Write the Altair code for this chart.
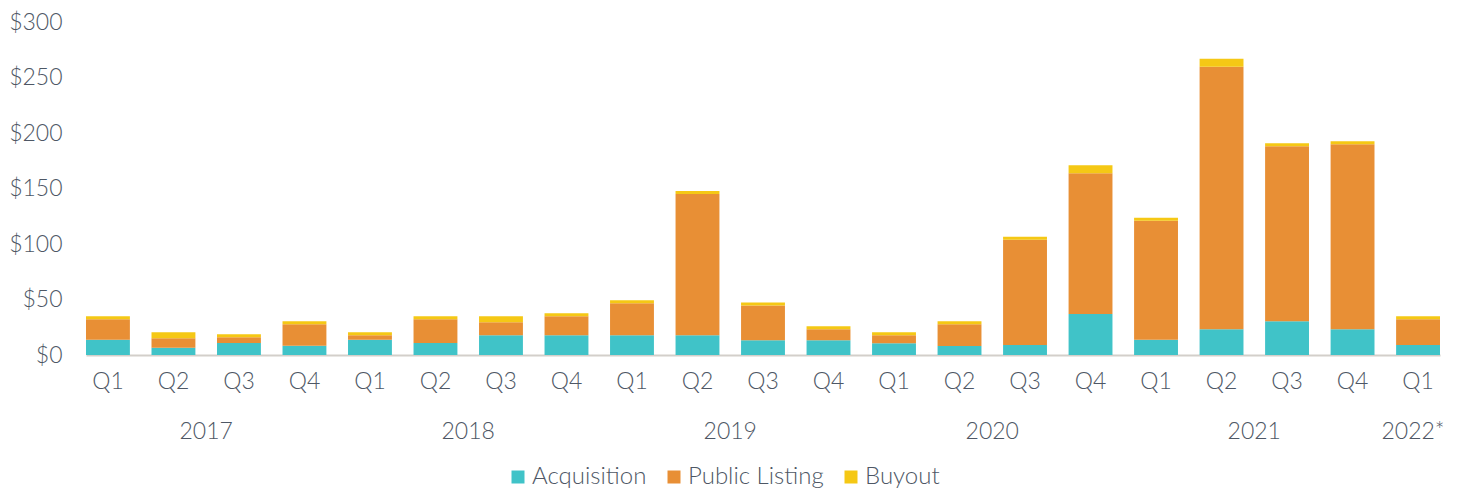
import altair as alt
import pandas as pd

years = ["2017"] * 4 + ["2018"] * 4 + ["2019"] * 4 + ["2020"] * 4 + ["2021"] * 4 + ["2022"]
quarters = ["Q1", "Q2", "Q3", "Q4"] * 5 + ["Q1"]
acquisition = [13.7, 6.5, 10.7, 8.4, 13.7, 10.7, 17.9, 17.9, 17.9, 17.9, 13.4,
               13.4, 10.5, 8.1, 9.0, 37.0, 13.7, 23.3, 30.4, 23.3, 9.0]
public_listing = [18.5, 8.7, 5.4, 19.4, 4.2, 21.5, 11.6, 17.0, 28.7, 127.1, 31.3,
                  9.8, 7.4, 19.7, 94.8, 126.8, 107.2, 236.3, 157.6, 166.5, 23.2]
buyout = [2.7, 5.4, 2.7, 2.7, 2.7, 2.7, 5.4, 2.7, 2.7, 2.7, 2.7,
          2.7, 2.7, 2.7, 2.7, 7.2, 2.7, 7.2, 2.7, 2.7, 2.7]
series = ["Acquisition", "Public Listing", "Buyout"]
colors = ["#40C3C8", "#E88F35", "#F5C815"]
year_labels = ["2017", "2018", "2019", "2020", "2021"]
year_anchor = ["2017 Q2", "2018 Q2", "2019 Q2", "2020 Q2", "2021 Q2"]
last_year_label = ["2022*"]
last_year_anchor = ["2022 Q1"]

keys = [f"{y} {q}" for y, q in zip(years, quarters)]
rows = []
for i, k in enumerate(keys):
    for j, (s, vals) in enumerate(zip(series, [acquisition, public_listing, buyout])):
        rows.append({"key": k, "series": s, "value": vals[i], "ord": j})
df = pd.DataFrame(rows)

W, H = 1354, 333
FONT = "Lato"
TXT = "#4e5765"
FS = 23

xscale = alt.Scale(domain=keys, paddingInner=0.33, paddingOuter=0)

bars = alt.Chart(df).mark_bar().encode(
    x=alt.X("key:N", scale=xscale, sort=keys, title=None,
            axis=alt.Axis(labelExpr="split(datum.label, ' ')[1]", labelAngle=0,
                          ticks=False, domainColor="#d3cfca", domainWidth=2,
                          labelFontSize=FS, labelPadding=15, labelColor=TXT,
                          labelFont=FONT, labelFontWeight=300)),
    y=alt.Y("value:Q", stack="zero", scale=alt.Scale(domain=[0, 300], nice=False), title=None,
            axis=alt.Axis(values=[0, 50, 100, 150, 200, 250, 300], labelExpr="'$' + datum.value",
                          grid=False, ticks=False, domain=False, labelFontSize=FS,
                          labelPadding=24, labelColor=TXT, labelFont=FONT, labelFontWeight=300)),
    color=alt.Color("series:N", scale=alt.Scale(domain=series, range=colors),
                    legend=alt.Legend(title=None, orient="none", legendX=420, legendY=443,
                                      direction="horizontal", symbolType="square",
                                      symbolSize=169, symbolStrokeWidth=0, labelFontSize=24,
                                      labelFont=FONT, labelColor=TXT, labelFontWeight=300,
                                      columnPadding=15, labelOffset=2)),
    order=alt.Order("ord:Q", sort="ascending"),
)

ydf = pd.DataFrame({"key": year_anchor, "label": year_labels})
ytext = alt.Chart(ydf).mark_text(dx=32.75, fontSize=FS, font=FONT, color=TXT,
                                  fontWeight=300, baseline="middle").encode(
    x=alt.X("key:N", scale=xscale, sort=keys),
    y=alt.value(H + 77),
    text="label:N",
)
ldf = pd.DataFrame({"key": last_year_anchor, "label": last_year_label})
ltext = alt.Chart(ldf).mark_text(dx=-5, fontSize=FS, font=FONT, color=TXT,
                                  fontWeight=300, baseline="middle").encode(
    x=alt.X("key:N", scale=xscale, sort=keys),
    y=alt.value(H + 77),
    text="label:N",
)

chart = alt.layer(bars, ytext, ltext).properties(
    width=W, height=H,
    padding={"left": 0, "top": 3, "right": 5, "bottom": 5},
).configure_view(stroke=None)

chart.save("out.html", embed_options={"renderer": "svg", "actions": False})
